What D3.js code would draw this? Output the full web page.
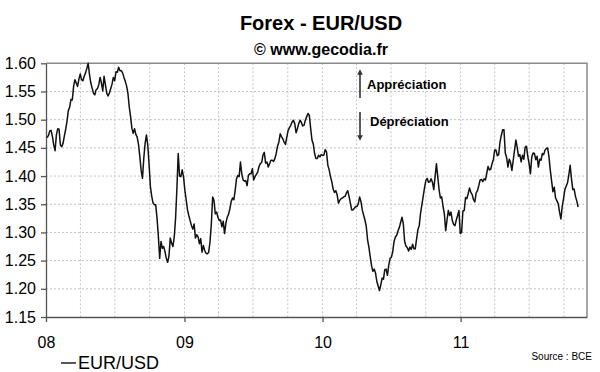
<!DOCTYPE html>
<html>
<head>
<meta charset="utf-8">
<script src="https://cdn.jsdelivr.net/npm/d3@7"></script>
<style>
body { margin: 0; background: #fff; }
svg { font-family: "Liberation Sans", Arial, sans-serif; }
</style>
</head>
<body>
<svg id="chart"></svg>
<script>
var width = 600,
    height = 372

var plotLeft = 46, plotRight = 587, plotTop = 63.3, plotBottom = 317;

// EUR/USD readings (ECB), twice a week starting 2008-01-04
var firstDay = "2008-01-04";
var stepHours = 84;
var eurusd = [
    1.468, 1.472, 1.480, 1.481, 1.470, 1.455, 1.445, 1.473, 1.484, 1.483,
    1.455, 1.452, 1.458, 1.471, 1.483, 1.497, 1.516, 1.522, 1.536, 1.535,
    1.559, 1.571, 1.565, 1.559, 1.572, 1.581, 1.571, 1.569, 1.577, 1.583,
    1.591, 1.600, 1.580, 1.565, 1.556, 1.547, 1.544, 1.553, 1.555, 1.562,
    1.575, 1.565, 1.551, 1.577, 1.562, 1.547, 1.542, 1.547, 1.555, 1.563,
    1.575, 1.569, 1.585, 1.584, 1.593, 1.587, 1.587, 1.583, 1.575, 1.568,
    1.560, 1.547, 1.523, 1.506, 1.485, 1.476, 1.484, 1.474, 1.469, 1.456,
    1.435, 1.410, 1.396, 1.432, 1.458, 1.473, 1.455, 1.420, 1.381, 1.364,
    1.352, 1.349, 1.349, 1.325, 1.293, 1.254, 1.284, 1.272, 1.275, 1.266,
    1.254, 1.247, 1.258, 1.290, 1.281, 1.275, 1.292, 1.325, 1.378, 1.440,
    1.400, 1.399, 1.411, 1.399, 1.375, 1.358, 1.340, 1.330, 1.321, 1.312,
    1.306, 1.315, 1.290, 1.296, 1.292, 1.280, 1.289, 1.265, 1.277, 1.268,
    1.263, 1.262, 1.265, 1.283, 1.315, 1.363, 1.357, 1.333, 1.336, 1.327,
    1.321, 1.322, 1.310, 1.320, 1.298, 1.316, 1.327, 1.332, 1.342, 1.355,
    1.361, 1.358, 1.374, 1.395, 1.401, 1.399, 1.425, 1.404, 1.393, 1.391,
    1.392, 1.383, 1.401, 1.404, 1.404, 1.413, 1.393, 1.399, 1.403, 1.407,
    1.417, 1.422, 1.424, 1.437, 1.442, 1.423, 1.425, 1.416, 1.422, 1.428,
    1.428, 1.426, 1.431, 1.440, 1.453, 1.460, 1.475, 1.470, 1.466, 1.460,
    1.456, 1.469, 1.481, 1.486, 1.490, 1.496, 1.499, 1.493, 1.477, 1.484,
    1.493, 1.499, 1.495, 1.489, 1.490, 1.499, 1.505, 1.511, 1.508, 1.485,
    1.464, 1.457, 1.440, 1.431, 1.431, 1.437, 1.434, 1.438, 1.437, 1.437,
    1.447, 1.443, 1.419, 1.411, 1.399, 1.390, 1.377, 1.371, 1.374, 1.367,
    1.352, 1.357, 1.360, 1.361, 1.363, 1.364, 1.370, 1.374, 1.364, 1.352,
    1.340, 1.340, 1.343, 1.346, 1.346, 1.351, 1.363, 1.355, 1.340, 1.331,
    1.322, 1.311, 1.287, 1.274, 1.257, 1.241, 1.231, 1.235, 1.228, 1.213,
    1.205, 1.197, 1.207, 1.219, 1.217, 1.234, 1.235, 1.224, 1.242, 1.254,
    1.256, 1.266, 1.284, 1.292, 1.295, 1.303, 1.309, 1.318, 1.327, 1.315,
    1.284, 1.276, 1.273, 1.267, 1.274, 1.270, 1.279, 1.271, 1.271, 1.288,
    1.305, 1.312, 1.334, 1.349, 1.364, 1.379, 1.392, 1.396, 1.389, 1.390,
    1.395, 1.389, 1.376, 1.399, 1.422, 1.399, 1.376, 1.361, 1.363, 1.346,
    1.333, 1.303, 1.322, 1.339, 1.330, 1.336, 1.321, 1.314, 1.312, 1.322,
    1.330, 1.339, 1.298, 1.300, 1.338, 1.339, 1.362, 1.360, 1.369, 1.379,
    1.371, 1.367, 1.358, 1.354, 1.370, 1.374, 1.383, 1.393, 1.394, 1.390,
    1.395, 1.393, 1.405, 1.417, 1.411, 1.412, 1.422, 1.429, 1.446, 1.446,
    1.436, 1.438, 1.460, 1.472, 1.482, 1.482, 1.441, 1.433, 1.416, 1.430,
    1.424, 1.410, 1.428, 1.446, 1.464, 1.451, 1.435, 1.438, 1.425, 1.437,
    1.430, 1.451, 1.453, 1.435, 1.422, 1.404, 1.434, 1.441, 1.440, 1.429,
    1.435, 1.416, 1.430, 1.428, 1.440, 1.438, 1.446, 1.449, 1.450, 1.434,
    1.410, 1.391, 1.372, 1.380, 1.361, 1.356, 1.351, 1.336, 1.324, 1.346,
    1.360, 1.376, 1.382, 1.388, 1.402, 1.419, 1.395, 1.376, 1.377, 1.364,
    1.356, 1.345
];

var yTicks = [1.15, 1.20, 1.25, 1.30, 1.35, 1.40, 1.45, 1.50, 1.55, 1.60];
var yearTicks = ["2008-01-01", "2009-01-01", "2010-01-01", "2011-01-01"];
var yearLabels = ["08", "09", "10", "11"];
var xStart = "2008-01-01", xEnd = "2011-12-01";

var parse = d3.timeParse("%Y-%m-%d");
var start = parse(firstDay);
var data = eurusd.map(function(v, i) {
    return { date: d3.timeHour.offset(start, i * stepHours), value: v };
});

var svg = d3.select("svg#chart")
    .attr("width", width)
    .attr("height", height);

var x = d3.scaleTime()
    .domain([parse(xStart), parse(xEnd)])
    .range([plotLeft, plotRight]);

var y = d3.scaleLinear()
    .domain([1.15, 1.60])
    .range([plotBottom, plotTop]);

// grid
var quarters = d3.timeMonth.every(3).range(d3.timeDay.offset(parse(xStart), 1), parse(xEnd));
svg.append("g")
    .selectAll("line")
    .data(quarters)
    .enter().append("line")
    .attr("x1", function(d) { return x(d); })
    .attr("x2", function(d) { return x(d); })
    .attr("y1", plotTop)
    .attr("y2", plotBottom)
    .attr("stroke", "#c4c4c4")
    .attr("stroke-dasharray", "2,2");

svg.append("g")
    .selectAll("line")
    .data(yTicks.slice(1, -1))
    .enter().append("line")
    .attr("x1", plotLeft)
    .attr("x2", plotRight)
    .attr("y1", function(d) { return y(d); })
    .attr("y2", function(d) { return y(d); })
    .attr("stroke", "#c4c4c4")
    .attr("stroke-dasharray", "2,2");

// frame top / right
svg.append("path")
    .attr("d", "M" + plotLeft + "," + y(1.60) + "H" + plotRight + "V" + plotBottom)
    .attr("fill", "none")
    .attr("stroke", "#8a8a8a")
    .attr("stroke-width", 1.5);

// axes
var yAxis = d3.axisLeft(y)
    .tickValues(yTicks)
    .tickFormat(d3.format(".2f"))
    .tickSize(5)
    .tickSizeOuter(0)
    .tickPadding(5);

var gy = svg.append("g")
    .attr("transform", "translate(" + plotLeft + ",0)")
    .call(yAxis);
gy.selectAll("text").attr("font-size", 16).attr("fill", "#000").attr("font-family", null);
gy.selectAll("line, path").attr("stroke", "#555").attr("stroke-width", 1.3);

var xAxis = d3.axisBottom(x)
    .tickValues(yearTicks.map(parse))
    .tickFormat(function(d, i) { return yearLabels[i]; })
    .tickSize(5)
    .tickSizeOuter(0)
    .tickPadding(15);

var gx = svg.append("g")
    .attr("transform", "translate(0," + plotBottom + ")")
    .call(xAxis);
gx.selectAll("text").attr("font-size", 16).attr("fill", "#000").attr("font-family", null);
gx.selectAll("line, path").attr("stroke", "#555").attr("stroke-width", 1.3);

// series
var line = d3.line()
    .x(function(d) { return x(d.date); })
    .y(function(d) { return y(d.value); });

svg.append("path")
    .datum(data)
    .attr("d", line)
    .attr("fill", "none")
    .attr("stroke", "#111")
    .attr("stroke-width", 1.5)
    .attr("stroke-linejoin", "round");

// titles
svg.append("text")
    .attr("x", 321)
    .attr("y", 30)
    .attr("text-anchor", "middle")
    .attr("font-size", 20)
    .attr("font-weight", "bold")
    .text("Forex - EUR/USD");

svg.append("text")
    .attr("x", 321)
    .attr("y", 55)
    .attr("text-anchor", "middle")
    .attr("font-size", 16)
    .attr("font-weight", "bold")
    .text("\u00a9 www.gecodia.fr");

// appreciation / depreciation arrows
var defs = svg.append("defs");
defs.append("marker")
    .attr("id", "head")
    .attr("viewBox", "0 0 10 10")
    .attr("refX", 5)
    .attr("refY", 5)
    .attr("markerWidth", 3.5)
    .attr("markerHeight", 3.5)
    .attr("orient", "auto")
    .append("path")
    .attr("d", "M0,0L10,5L0,10Z")
    .attr("fill", "#333");

svg.append("line")
    .attr("x1", 360).attr("x2", 360)
    .attr("y1", 98).attr("y2", 72)
    .attr("stroke", "#333")
    .attr("stroke-width", 1.6)
    .attr("marker-end", "url(#head)");

svg.append("line")
    .attr("x1", 360).attr("x2", 360)
    .attr("y1", 112).attr("y2", 138)
    .attr("stroke", "#333")
    .attr("stroke-width", 1.6)
    .attr("marker-end", "url(#head)");

svg.append("text")
    .attr("x", 367)
    .attr("y", 89)
    .attr("font-size", 13)
    .attr("font-weight", "bold")
    .text("Appréciation");

svg.append("text")
    .attr("x", 370)
    .attr("y", 126)
    .attr("font-size", 13)
    .attr("font-weight", "bold")
    .text("Dépréciation");

// legend
svg.append("line")
    .attr("x1", 61)
    .attr("x2", 76)
    .attr("y1", 363)
    .attr("y2", 363)
    .attr("stroke", "#111")
    .attr("stroke-width", 1.4);

svg.append("text")
    .attr("x", 78)
    .attr("y", 369)
    .attr("font-size", 18)
    .text("EUR/USD");

svg.append("text")
    .attr("x", 592)
    .attr("y", 360)
    .attr("text-anchor", "end")
    .attr("font-size", 10)
    .text("Source : BCE");
</script>
</body>
</html>
